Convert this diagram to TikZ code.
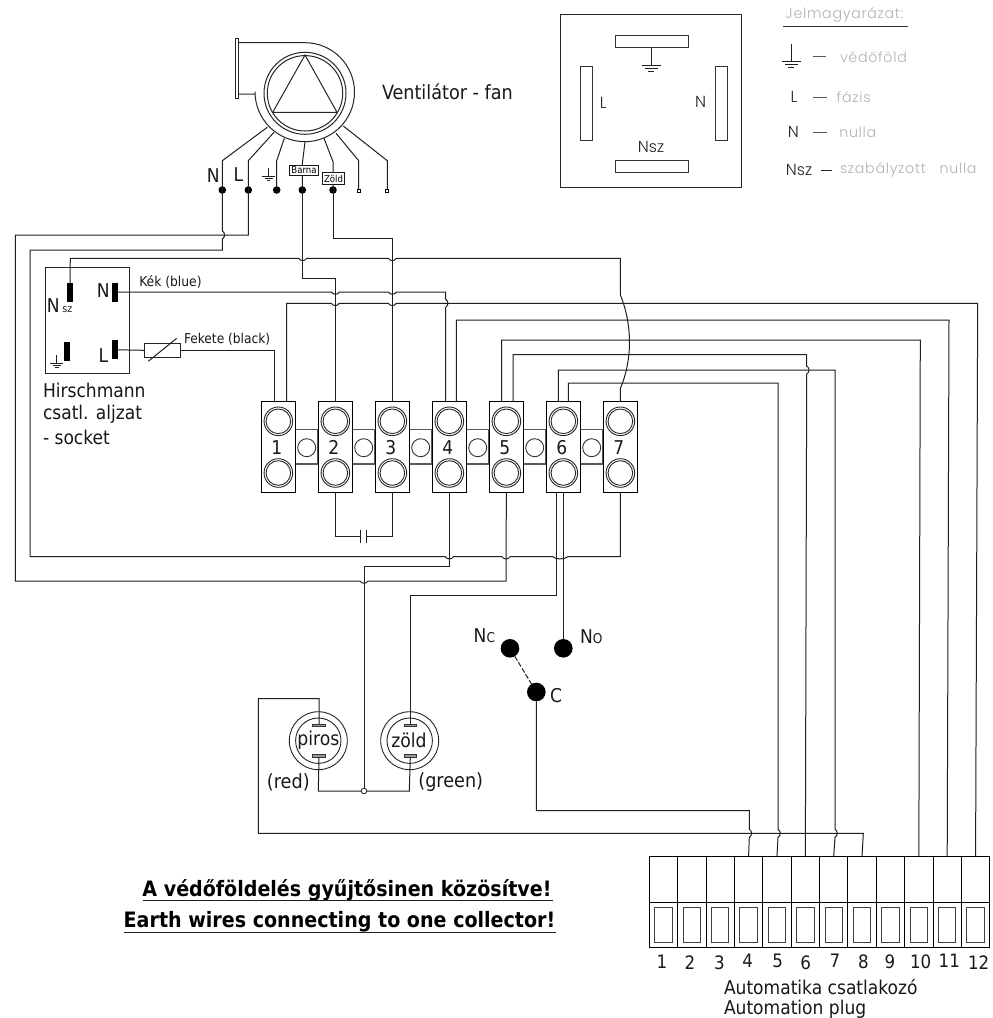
\documentclass[tikz,border=0pt]{standalone}
\usepackage{fontspec}
\setmainfont{DejaVu Sans Condensed}
\newfontfamily\legfont[LetterSpace=5]{Poppins Light}
\newfontfamily\legdark{Poppins Light}
\newcommand\fsz[1]{\fontsize{#1}{#1}\selectfont}
% wire hops: horizontal (left to right) dips down, vertical (top to bottom) bulges right
\newcommand\hj[2]{-- ({#1-4},#2) .. controls ({#1-2.5},{#2+3}) and ({#1+2.5},{#2+3}) .. ({#1+4},#2)}
\newcommand\vj[2]{-- (#1,{#2-4}) .. controls ({#1+3},{#2-2.5}) and ({#1+3},{#2+2.5}) .. (#1,{#2+4})}
\tikzset{
  wire/.style={line width=1pt,draw=black!88},
  blk/.style={line width=1pt,draw=black!85},
  txt/.style={inner sep=0pt,outer sep=0pt,text=black!90},
  dotnode/.style={circle,fill=black,draw=none,inner sep=0pt,outer sep=0pt,minimum size=7.6pt},
  sqnode/.style={rectangle,draw=black,line width=.7pt,fill=white,inner sep=0pt,outer sep=0pt,minimum size=3pt},
  bigdot/.style={circle,fill=black,draw=none,inner sep=0pt,outer sep=0pt,minimum size=18.6pt},
  tagbox/.style={rectangle,draw=black!90,line width=.8pt,fill=white,inner sep=0pt,outer sep=0pt,font=\fsz{9.5}},
  pinnode/.style={rectangle,fill=black,draw=none,inner sep=0pt,outer sep=0pt,minimum width=5.5pt,minimum height=19pt},
  termbox/.style={rectangle,draw=black,line width=1pt,fill=white,inner sep=0pt,outer sep=0pt,minimum width=34.7pt,minimum height=91pt},
  plugbox/.style={rectangle,draw=black,line width=1pt,fill=white,inner sep=0pt,outer sep=0pt,minimum width=28.4pt,minimum height=46.3pt},
  barbox/.style={rectangle,draw=black!80,line width=1pt,inner sep=0pt,outer sep=0pt},
  gtxt/.style={inner sep=0pt,outer sep=0pt,text=black!30,font=\legfont\fsz{14.2}},
  dtxt/.style={inner sep=0pt,outer sep=0pt,text=black!85,font=\legdark\fsz{16}},
  dashl/.style={line width=1pt,draw=black!65},
}
\begin{document}
\begin{tikzpicture}[x=1pt,y=-1pt]
\useasboundingbox (0,0) rectangle (993,1018);
\fill[white] (0,0) rectangle (993,1018);

% ---------- fan ----------
\draw[blk] (235.3,38.3) rectangle (238,98.3);
\draw[blk] (238,42.7) -- (305,42.7) arc[start angle=-90,end angle=90,radius=49.5] arc[start angle=90,end angle=180,radius=50] -- (255,94) -- (238,94);
\node[circle,draw=black!85,line width=1pt,inner sep=0pt,minimum size=82pt] (fan) at (305,93.3) {};
\draw[blk] (305,93.3) circle[radius=37.7];
\draw[blk] (305,55) -- (337,112.3) -- (272.7,112.3) -- cycle;
\node[txt,font=\fsz{19.6},anchor=west] (fanlabel) at (382,91.5) {Ventilátor - fan};

\coordinate (fN) at (267.3,127.3);
\coordinate (fL) at (274,132.3);
\coordinate (fE) at (284.3,138.3);
\coordinate (fB) at (305,141.7);
\coordinate (fZ) at (324,138.3);
\coordinate (f6) at (336,133.3);
\coordinate (f7) at (343.3,126);

\node[dotnode] (dN) at (222.3,190) {};
\node[dotnode] (dL) at (248.3,190) {};
\node[dotnode] (dE) at (276.7,190) {};
\node[dotnode] (dB) at (302.3,190) {};
\node[dotnode] (dZ) at (333,190) {};
\node[sqnode] (d6) at (358.7,190.7) {};
\node[sqnode] (d7) at (387.3,190.7) {};

\draw[wire] (fE) -- (276.7,160.7) -- (dE);
\draw[wire] (f6) -- (358.7,160.7) -- (d6);
\draw[wire] (f7) -- (387.3,160.7) -- (d7);
\draw[wire] (fB) -- (302.3,164) -- (dB.center);
\draw[wire] (fZ) -- (333,161.7) -- (dZ.center);
\node[tagbox,minimum width=29.4pt,minimum height=10.7pt] (tagB) at (304,170.4) {Barna};
\node[tagbox,minimum width=22.4pt,minimum height=11.6pt] (tagZ) at (333.5,178.5) {Zöld};

\node[txt,font=\fsz{19}] (lN) at (213.3,175.7) {N};
\node[txt,font=\fsz{19}] (lL) at (238.5,174.5) {L};
\draw[wire,line width=.8pt] (268.7,168.3) -- (268.7,176) (262,176) -- (275.3,176) (264.7,178.3) -- (272.7,178.3) (267,180.7) -- (270.4,180.7);

% ---------- terminals ----------
\foreach \i in {1,...,6}{
  \pgfmathsetmacro\bx{295.7+57*(\i-1)}
  \pgfmathsetmacro\cx{\bx+11}
  \draw[line width=1.1pt,draw=black!65] (\bx,429.7) rectangle ({\bx+22.3},464);
  \draw[line width=.9pt,draw=black!80,fill=white] (\cx,447.7) circle[radius=9];
}
\foreach \i in {1,...,7}{
  \pgfmathsetmacro\tx{278.35+57*(\i-1)}
  \node[termbox] (t\i) at (\tx,447.2) {};
  \draw[line width=.9pt,draw=black!85] (\tx,421.3) circle[radius=14.3] (\tx,421.3) circle[radius=12.3]
     (\tx,473) circle[radius=14.3] (\tx,473) circle[radius=12.3];
  \node[txt,font=\fsz{19}] (tn\i) at ({\tx-1.5},447.7) {\i};
}

% ---------- socket ----------
\node[rectangle,draw=black!85,line width=1pt,inner sep=0pt,minimum width=83.6pt,minimum height=106.3pt] (sock) at (87.5,320.15) {};
\node[pinnode] (pNs) at (70,292.8) {};
\node[pinnode] (pN) at (115.2,292.3) {};
\node[pinnode] (pE) at (67.2,351.8) {};
\node[pinnode] (pL) at (115.2,349.8) {};
\node[txt,font=\fsz{19}] (lNs) at (53.3,305.3) {N};
\node[txt,font=\fsz{10.5}] (lsz) at (67.3,309.5) {sz};
\node[txt,font=\fsz{19}] (lN2) at (103.3,291) {N};
\node[txt,font=\fsz{19}] (lL2) at (103.3,355.3) {L};
\draw[wire,line width=.8pt] (56.7,355) -- (56.7,363.3) (50,363.3) -- (63.3,363.3) (52.7,365.5) -- (60.7,365.5) (55,367.7) -- (58.7,367.7);
\node[txt,font=\fsz{13.7},anchor=west] (kek) at (139.3,281.5) {Kék (blue)};
\node[txt,font=\fsz{13.6},anchor=west] (fek) at (184,339.2) {Fekete (black)};
\node[rectangle,draw=black!85,line width=1pt,inner sep=0pt,minimum width=35.3pt,minimum height=14pt] (fuse) at (162.6,350.3) {};
\draw[wire] (148.3,361.3) -- (176.7,338.3);
\node[txt,font=\fsz{19},anchor=west] (hl1) at (43,390) {Hirschmann};
\node[txt,font=\fsz{19},anchor=west] (hl2) at (43,414) {csatl. aljzat};
\node[txt,font=\fsz{19},anchor=west] (hl3) at (43,437.3) {- socket};

% ---------- lamps ----------
\node[circle,draw=black!85,line width=.9pt,inner sep=0pt,minimum size=58pt] (lr) at (318.3,740.7) {};
\draw[line width=.9pt,draw=black!85] (318.3,740.7) circle[radius=22.7];
\node[circle,draw=black!85,line width=.9pt,inner sep=0pt,minimum size=58pt] (lg) at (409.7,740.7) {};
\draw[line width=.9pt,draw=black!85] (409.7,740.7) circle[radius=22.7];
\node[rectangle,draw=black!80,fill=black!40,line width=.6pt,inner sep=0pt,minimum width=12.6pt,minimum height=2.3pt] (lrT) at (319,725.2) {};
\node[rectangle,draw=black!80,fill=black!40,line width=.6pt,inner sep=0pt,minimum width=12.6pt,minimum height=2.3pt] (lrB) at (319,755.8) {};
\node[rectangle,draw=black!80,fill=black!40,line width=.6pt,inner sep=0pt,minimum width=12.6pt,minimum height=2.3pt] (lgT) at (410.3,725.2) {};
\node[rectangle,draw=black!80,fill=black!40,line width=.6pt,inner sep=0pt,minimum width=12.6pt,minimum height=2.3pt] (lgB) at (410.3,755.8) {};
\node[txt,font=\fsz{19.2}] (tred) at (318.3,740) {piros};
\node[txt,font=\fsz{19.2}] (tgrn) at (409,740) {zöld};
\node[txt,font=\fsz{19.6}] (tred2) at (288.3,782.7) {(red)};
\node[txt,font=\fsz{19.6}] (tgrn2) at (450.7,781.7) {(green)};

% ---------- switch ----------
\node[bigdot] (nc) at (510,648.3) {};
\node[bigdot] (no) at (563.3,648.3) {};
\node[bigdot] (cc) at (536.3,692) {};
\node[txt,font=\fsz{19},anchor=east] (lnc) at (495,635.5) {N\fsz{13.5}C};
\node[txt,font=\fsz{19},anchor=west] (lno) at (580,636.5) {N\fsz{13.5}O};
\node[txt,font=\fsz{19},anchor=west] (lc) at (550,696) {C};
\draw[wire,dashed,dash pattern=on 5pt off 2pt] (nc) -- (cc);

% ---------- plug ----------
\foreach \i in {1,...,12}{
  \pgfmathsetmacro\px{663.5+28.37*(\i-1)}
  \node[plugbox] (p\i) at (\px,879.2) {};
  \node[plugbox,minimum height=45pt] (q\i) at (\px,924.9) {};
  \node[rectangle,draw=black!75,line width=1pt,inner sep=0pt,minimum width=17.4pt,minimum height=35pt] (r\i) at (\px,924.8) {};
}
\foreach \n/\nx/\ny in {1/662/961.7,2/690/962.7,3/719.3/962.7,4/747.7/960.7,5/777.7/960.7,6/805.7/962.7,7/835/960.7,8/863.3/961.7,9/890/961.7,10/920.7/962.2,11/949.3/961,12/978.7/962.2}{
  \node[txt,font=\fsz{18.5}] (pn\n) at (\nx,\ny) {\n};
}
\node[txt,font=\fsz{19},anchor=west] (auto1) at (724,986.7) {Automatika csatlakozó};
\node[txt,font=\fsz{19},anchor=west] (auto2) at (724,1009) {Automation plug};

% ---------- note ----------
\node[txt,font=\bfseries\fsz{21.2},text=black,anchor=base] (note1) at (347,896) {A védőföldelés gyűjtősinen közösítve!};
\node[txt,font=\bfseries\fsz{21.2},text=black,anchor=base] (note2) at (339.5,927.7) {Earth wires connecting to one collector!};
\coordinate (u1a) at (142.5,900.3); \coordinate (u1b) at (552.5,900.3);
\coordinate (u2a) at (123.8,932.3); \coordinate (u2b) at (556,932.3);
\draw[wire] (u1a) -- (u1b);
\draw[wire] (u2a) -- (u2b);

% ---------- wires ----------
% N
\draw[wire] (fN) -- (222.3,160.7) -- (dN.center) \vj{222.3}{235} -- (222.3,250) -- (30,250) -- (30,556.7)
  \hj{449.3}{556.7} \hj{506}{556.7}
  -- (552.7,556.7) .. controls (555.5,559.7) and (564.5,559.7) .. (567.8,556.7) -- (620.35,556.7) -- (t7.south);
% L
\draw[wire] (fL) -- (248.3,160.7) -- (dL.center) -- (248.3,235) -- (15.3,235) -- (15.3,581) \hj{364}{581} -- (506,581) -- (t5.south);
% Nsz
\draw[wire] (pNs.north) -- (70.3,258.3) \hj{302.7}{258.3} \hj{392.3}{258.3} -- (620.4,258.3) -- (620.4,295) .. controls (632.5,325) and (632.5,360) .. (620.4,388.3) -- (t7.north);
% brown, green
\draw[wire] (dB.center) -- (302.3,278.3) -- (335.35,278.3) -- (t2.north);
\draw[wire] (dZ.center) -- (333,238.3) -- (392.35,238.3) -- (t3.north);
% blue
\draw[wire] (pN.east) -- (118,292) \hj{335.35}{292} \hj{392.35}{292} -- (445.7,292) \vj{445.7}{303.3} -- (445.7,401.7);
% black via fuse
\draw[wire] (pL.east) -- (fuse.west);
\draw[wire] (fuse.east) -- (274.7,350.3) -- (274.7,401.7);
% long wires to plug
\draw[wire] (286.5,401.7) -- (286.5,303.3) \hj{335.35}{303.3} \hj{392.35}{303.3} -- (977.7,303.3) -- (p12.north);
\draw[wire] (456.3,401.7) -- (456.3,320) -- (949,320) -- (p11.north);
\draw[wire] (501.7,401.7) -- (501.7,340) -- (920.3,340) -- (p10.north);
\draw[wire] (513,401.7) -- (513,354.7) -- (806.7,354.7) \vj{806.7}{370} -- (p6.north);
\draw[wire] (558.3,401.7) -- (558.3,370) -- (835,370) \vj{835}{833.3} -- (p7.north);
\draw[wire] (568.3,401.7) -- (568.3,383) -- (778,383) \vj{778}{833.3} -- (p5.north);
% capacitor
\coordinate (capL) at (360,536); \coordinate (capR) at (366.7,536);
\draw[wire] (t2.south) -- (335.35,536) -- (capL);
\draw[wire] (t3.south) -- (392.35,536) -- (capR);
\draw[wire] (360,529.7) -- (360,543) (366.7,529.7) -- (366.7,543);
% terminal 4, 5/6 to lamps and switch
\node[circle,draw=black!90,fill=white,line width=.8pt,inner sep=0pt,minimum size=5.6pt] (jn) at (364,791) {};
\draw[wire] (t4.south) -- (449.35,566.7) -- (364,566.7) -- (jn.north);
\draw[wire] (lrB.south) -- (318.3,791) -- (jn.west);
\draw[wire] (jn.east) -- (409.3,791) -- (lgB.south);
\draw[wire] (556.7,492.7) -- (556.7,595) -- (410.3,595) -- (lgT.north);
\draw[wire] (563.3,492.7) -- (no);
\draw[wire] (lrT.north) -- (319,698.7) -- (258.3,698.7) -- (258.3,833.3) -- (863.3,833.3) -- (p8.north);
\draw[wire] (cc) -- (536.3,810.7) -- (749.3,810.7) \vj{749.3}{833.3} -- (p4.north);

% ---------- connector view ----------
\node[rectangle,draw=black!85,line width=1pt,inner sep=0pt,minimum width=181pt,minimum height=172.7pt] (view) at (650.5,100.65) {};
\node[barbox,minimum width=73.4pt,minimum height=12.4pt] (vT) at (652,41.5) {};
\node[barbox,minimum width=73.4pt,minimum height=12.3pt] (vB) at (652,166.2) {};
\node[barbox,minimum width=12pt,minimum height=74pt] (vL) at (586.3,103.3) {};
\node[barbox,minimum width=12pt,minimum height=74pt] (vR) at (721,103.3) {};
\coordinate (vE) at (651.3,65);
\draw[wire,line width=.9pt] (vT.south -| vE) -- (vE) (642.3,65) -- (661,65) (645,68) -- (657.7,68) (648.3,71.3) -- (653.7,71.3);
\node[dtxt] (vlL) at (603.3,102.7) {L};
\node[dtxt] (vlN) at (700.7,101.5) {N};
\node[dtxt] (vlNs) at (651,147.3) {Nsz};

% ---------- legend ----------
\node[gtxt,anchor=west] (leg0) at (785.7,15) {Jelmagyarázat:};
\coordinate (legA) at (783.3,26); \coordinate (legB) at (908.3,26);
\draw[line width=.8pt,draw=black!80] (legA) -- (legB);
\draw[wire,line width=.9pt] (791.7,44.3) -- (791.7,61) (782.3,61) -- (801,61) (785,64) -- (797.7,64) (788.3,67.3) -- (794,67.3);
\draw[dashl] (812.7,56) -- (826,56);
\node[gtxt,anchor=west] (leg1) at (840,56.7) {védöföld};
\node[dtxt] (leg2k) at (794,96.7) {L};
\draw[dashl] (813.3,97) -- (826.7,97);
\node[gtxt,anchor=west] (leg2) at (836.7,96.7) {fázis};
\node[dtxt] (leg3k) at (793.3,132.3) {N};
\draw[dashl] (813.3,132.7) -- (826.7,132.7);
\node[gtxt,anchor=west] (leg3) at (839.3,132.7) {nulla};
\node[dtxt] (leg4k) at (799,169.7) {Nsz};
\draw[line width=1pt,draw=black!85] (821,170.7) -- (832.3,170.7);
\node[gtxt,anchor=west] (leg4) at (840,170) {szabályzott\ \ \ nulla};
\end{tikzpicture}
\end{document}
